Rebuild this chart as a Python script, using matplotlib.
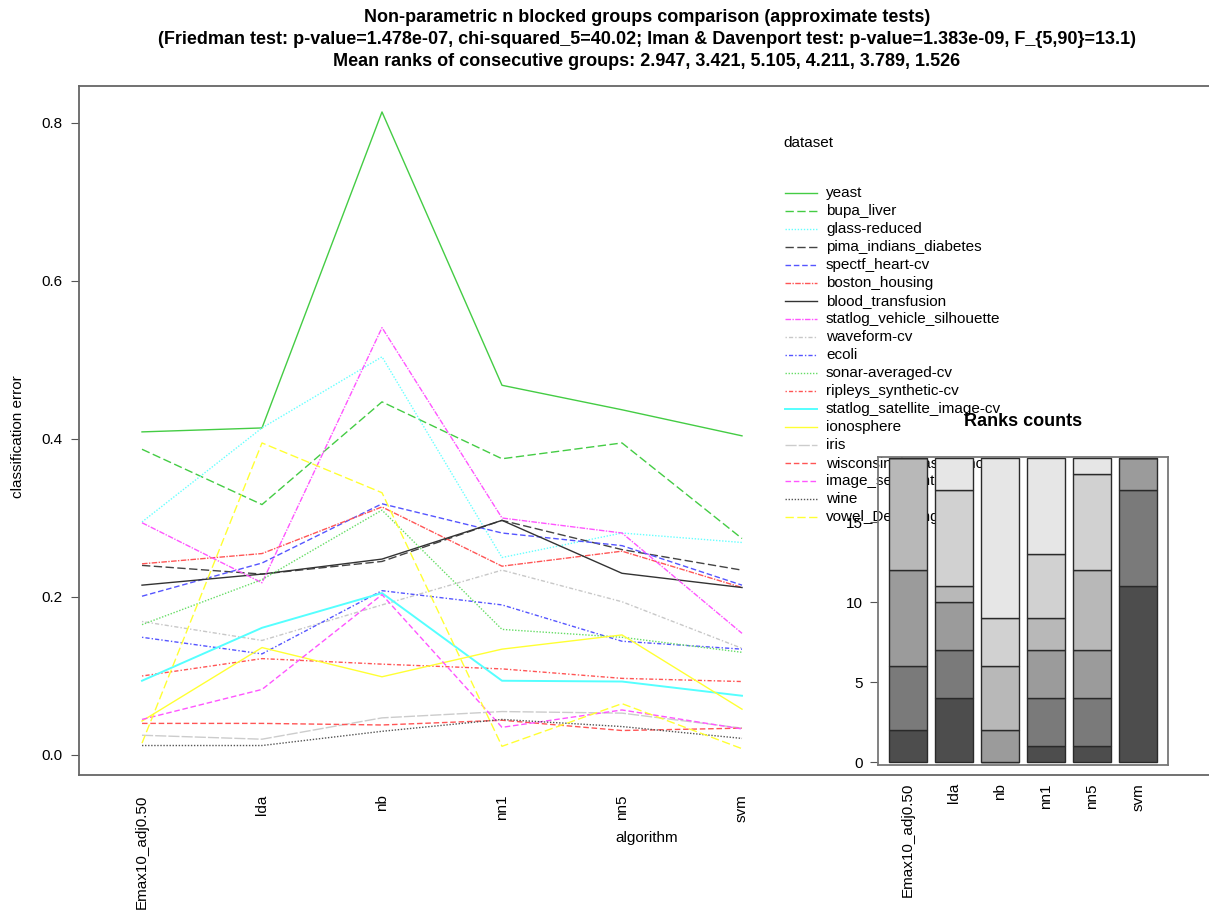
import numpy as np
import matplotlib
matplotlib.use('Agg')
import matplotlib.pyplot as plt

plt.rcParams['font.family'] = ['Liberation Sans', 'DejaVu Sans']

# algorithms on the x axis
algorithms = ["Emax10_adj0.50", "lda", "nb", "nn1", "nn5", "svm"]

# classification error per dataset (one value per algorithm)
datasets = ["yeast", "bupa_liver", "glass-reduced", "pima_indians_diabetes",
            "spectf_heart-cv", "boston_housing", "blood_transfusion",
            "statlog_vehicle_silhouette", "waveform-cv", "ecoli",
            "sonar-averaged-cv", "ripleys_synthetic-cv", "statlog_satellite_image-cv",
            "ionosphere", "iris", "wisconsin_breast_cancer", "image_segmentation",
            "wine", "vowel_Deterding"]

yeast = [0.409, 0.414, 0.814, 0.468, 0.437, 0.404]
bupa_liver = [0.387, 0.317, 0.447, 0.375, 0.395, 0.274]
glass_reduced = [0.295, 0.414, 0.504, 0.250, 0.281, 0.269]
pima_indians_diabetes = [0.240, 0.229, 0.245, 0.297, 0.260, 0.234]
spectf_heart = [0.201, 0.243, 0.318, 0.281, 0.265, 0.215]
boston_housing = [0.242, 0.255, 0.314, 0.239, 0.258, 0.212]
blood_transfusion = [0.215, 0.229, 0.248, 0.297, 0.230, 0.212]
statlog_vehicle = [0.294, 0.218, 0.541, 0.300, 0.281, 0.154]
waveform = [0.169, 0.145, 0.190, 0.234, 0.194, 0.135]
ecoli = [0.149, 0.128, 0.208, 0.190, 0.144, 0.134]
sonar = [0.165, 0.222, 0.310, 0.159, 0.149, 0.130]
ripleys = [0.100, 0.122, 0.115, 0.109, 0.097, 0.093]
statlog_satellite = [0.094, 0.161, 0.205, 0.094, 0.093, 0.075]
ionosphere = [0.043, 0.136, 0.099, 0.134, 0.152, 0.058]
iris = [0.025, 0.020, 0.047, 0.055, 0.053, 0.034]
wisconsin = [0.040, 0.040, 0.038, 0.044, 0.031, 0.034]
image_segmentation = [0.045, 0.083, 0.203, 0.035, 0.057, 0.033]
wine = [0.012, 0.012, 0.030, 0.045, 0.036, 0.021]
vowel_deterding = [0.015, 0.395, 0.332, 0.011, 0.065, 0.008]

errors = [yeast, bupa_liver, glass_reduced, pima_indians_diabetes, spectf_heart,
          boston_housing, blood_transfusion, statlog_vehicle, waveform, ecoli,
          sonar, ripleys, statlog_satellite, ionosphere, iris, wisconsin,
          image_segmentation, wine, vowel_deterding]

# rank counts: rows = rank 1..6, columns = algorithms
rank_counts = np.array([
    [2, 4, 0, 1, 1, 11],
    [4, 3, 0, 3, 3, 6],
    [6, 3, 2, 3, 3, 2],
    [7, 1, 4, 2, 5, 0],
    [0, 6, 3, 4, 6, 0],
    [0, 2, 10, 6, 1, 0],
])

title_lines = [
    "Non-parametric n blocked groups comparison (approximate tests)",
    "(Friedman test: p-value=1.478e-07, chi-squared_5=40.02; Iman & Davenport test: p-value=1.383e-09, F_{5,90}=13.1)",
    "Mean ranks of consecutive groups: 2.947, 3.421, 5.105, 4.211, 3.789, 1.526",
]

colors = ["#44CC44", "#44CC44", "#66FFFF", "#444444", "#5555FF", "#FF5555",
          "#333333", "#FF55FF", "#C8C8C8", "#5555FF", "#66DD66", "#FF5555",
          "#55FFFF", "#FFFF33", "#CCCCCC", "#FF5555", "#FF55FF", "#555555", "#FFFF33"]
dotdash = (0, (1, 1.5, 3, 1.5))
twodash = (0, (4, 1, 1, 1))
styles = ["-", (0, (6, 2.5)), (0, (1, 1.2)), (0, (6, 2.5)), (0, (4, 2)), twodash,
          "-", twodash, dotdash, dotdash, (0, (1, 1.2)), dotdash,
          "-", "-", (0, (8, 1.5)), (0, (4, 2)), (0, (4, 2)), (0, (1, 1.2)), (0, (6, 2.5))]
widths = [1.0] * 19
widths[12] = 1.4

W, H = 1209, 910
fig = plt.figure(figsize=(W / 100, H / 100), dpi=100)

def fx(px):
    return px / W

def fy(py):
    return 1 - py / H

# main axes
ax = fig.add_axes([fx(79), fy(775), fx(1215 - 79), (775 - 86) / H])
x = np.arange(1, len(algorithms) + 1)
for name, vals, c, ls, lw in zip(datasets, errors, colors, styles, widths):
    ax.plot(x, vals, color=c, linestyle=ls, linewidth=lw, label=name)

ax.set_xlim(0.475, 1 + (1215 - 142) / 120)
ax.set_ylim(-(775 - 755) / 790, (755 - 86) / 790)
ax.set_yticks([0.0, 0.2, 0.4, 0.6, 0.8])
ax.set_yticklabels(["0.0", "0.2", "0.4", "0.6", "0.8"])
ax.set_xticks(x)
ax.set_xticklabels(algorithms, rotation=90, va='top')
ax.tick_params(axis='x', length=0, pad=14, labelsize=11)
ax.tick_params(axis='y', length=6, pad=6, labelsize=11, color='#555555')
for s in ax.spines.values():
    s.set_color('#666666')
    s.set_linewidth(1.3)
ax.set_ylabel('classification error', fontsize=11)
ax.yaxis.set_label_coords((18 - 79) / (1215 - 79), (775 - 437) / 689)
ax.yaxis.label.set_va('center')
ax.set_xlabel('algorithm', fontsize=11)
ax.xaxis.set_label_coords(0.5, -(838 - 775) / 689)
ax.xaxis.label.set_va('center')

# legend drawn by hand (no frame), inside main axes so the inset covers it
ax.text(fx(783), fy(143), 'dataset', transform=fig.transFigure, fontsize=11,
        va='center', ha='left')
for i, (name, c, ls, lw) in enumerate(zip(datasets, colors, styles, widths)):
    yy = fy(193 + 18 * i)
    ax.plot([fx(785), fx(817)], [yy, yy], transform=fig.transFigure, color=c,
            linestyle=ls, linewidth=lw, clip_on=False)
    ax.text(fx(826), yy, name, transform=fig.transFigure, fontsize=11,
            va='center', ha='left')

# title
for i, line in enumerate(title_lines):
    fig.text(fx(647), fy(18 + 22 * i), line, ha='center', va='center',
             fontsize=13, fontweight='bold')

# inset: rank counts
ax2 = fig.add_axes([fx(878), fy(765), fx(1168 - 878), (765 - 457) / H])
ax2.patch.set_alpha(0)
greys = ["#4D4D4D", "#7A7A7A", "#9B9B9B", "#B8B8B8", "#D1D1D1", "#E6E6E6"]
pos = 0.7 + 1.2 * np.arange(len(algorithms))
bottom = np.zeros(len(algorithms))
for r in range(rank_counts.shape[0]):
    ax2.bar(pos, rank_counts[r], width=1.0, bottom=bottom, color=greys[r],
            edgecolor='#2A2A2A', linewidth=1.0)
    bottom += rank_counts[r]
ax2.set_xlim(-0.08, 7.48)
ax2.set_ylim(-0.17, 19.06)
ax2.set_yticks([0, 5, 10, 15])
ax2.set_xticks(pos)
ax2.set_xticklabels(algorithms, rotation=90, va='top')
ax2.tick_params(axis='x', length=0, pad=13, labelsize=11)
ax2.tick_params(axis='y', length=6, pad=5, labelsize=11, color='#555555')
for s in ax2.spines.values():
    s.set_color('#777777')
    s.set_linewidth(1.3)
ax2.text(0.5, 1 + 36 / 308, 'Ranks counts', transform=ax2.transAxes,
         ha='center', va='center', fontsize=13, fontweight='bold')

fig.savefig('out.png', dpi=100)
